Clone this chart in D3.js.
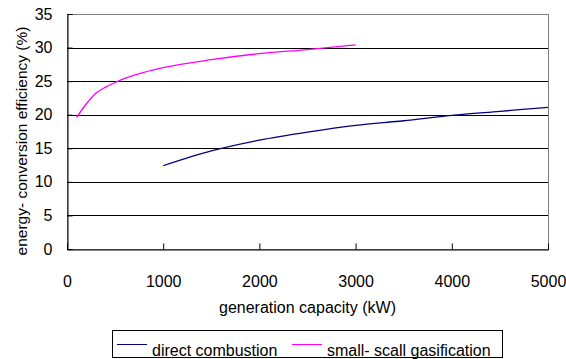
<!DOCTYPE html>
<html>
<head>
<meta charset="utf-8">
<script src="https://cdn.jsdelivr.net/npm/d3@7"></script>
<style>
  body { margin: 0; background: #fff; }
  svg { display: block; font-family: "Liberation Sans", Arial, sans-serif; }
</style>
</head>
<body>
<svg id="chart"></svg>
<script>
// data
var directKW = [1000, 1500, 2000, 2500, 3000, 3500, 4000, 4500, 5000]
var directEff = [12.4, 14.6, 16.2, 17.4, 18.4, 19.1, 19.9, 20.5, 21.1]
var gasKW = [100, 200, 300, 400, 500, 600, 800, 1000, 1500, 2000, 2500, 3000]
var gasEff = [19.6, 21.6, 23.2, 24.1, 24.8, 25.4, 26.3, 27.0, 28.2, 29.1, 29.7, 30.4]
var xTicks = [0, 1000, 2000, 3000, 4000, 5000]
var yTicks = [0, 5, 10, 15, 20, 25, 30, 35]
var seriesNames = ["direct combustion", "small- scall gasification"]
var seriesColors = ["#000080", "#ff00ff"]

var W = 566, H = 359
var margin = {top: 14, right: 18, bottom: 110, left: 67}
var width = W - margin.left - margin.right,
    height = H - margin.top - margin.bottom

var svg = d3.select("#chart").attr("width", W).attr("height", H)
var g = svg.append("g").attr("transform", "translate(" + margin.left + "," + margin.top + ")")

var x = d3.scaleLinear().domain([0, 5000]).range([0, width])
var y = d3.scaleLinear().domain([0, 35]).range([height, 0])

// plot frame (gray)
g.append("rect")
  .attr("x", 0.5).attr("y", 0.5)
  .attr("width", width).attr("height", height)
  .attr("fill", "none")
  .attr("stroke", "#808080")

// gridlines
g.selectAll(".grid")
  .data(yTicks.filter(function (d) { return d > 0 && d < 35 }))
  .enter().append("line")
  .attr("x1", 0).attr("x2", width)
  .attr("y1", function (d) { return Math.round(y(d)) + 0.5 })
  .attr("y2", function (d) { return Math.round(y(d)) + 0.5 })
  .attr("stroke", "#000")

// y axis
var yAxis = g.append("g")
  .attr("transform", "translate(0.5,0)")
  .call(d3.axisLeft(y).tickValues(yTicks).tickSize(-5).tickPadding(15))
yAxis.select(".domain").attr("stroke", "#000")
yAxis.selectAll("text").attr("font-size", "16px").attr("fill", "#000").attr("font-family", "Liberation Sans, Arial, sans-serif")

// x axis
var xAxis = g.append("g")
  .attr("transform", "translate(0," + (height + 0.5) + ")")
  .call(d3.axisBottom(x).tickValues(xTicks).tickFormat(d3.format("d")).tickSize(-6).tickPadding(26))
xAxis.select(".domain").attr("stroke", "#000")
xAxis.selectAll("text").attr("font-size", "16px").attr("fill", "#000").attr("font-family", "Liberation Sans, Arial, sans-serif")

// axis titles
svg.append("text")
  .attr("x", margin.left + width / 2).attr("y", 313)
  .attr("text-anchor", "middle")
  .attr("font-size", "16px")
  .text("generation capacity (kW)")

svg.append("text")
  .attr("transform", "translate(27,141) rotate(-90)")
  .attr("text-anchor", "middle")
  .attr("font-size", "15.5px")
  .text("energy- conversion efficiency (%)")

// lines
var line = d3.line()
  .x(function (d) { return x(d[0]) })
  .y(function (d) { return y(d[1]) })
  .curve(d3.curveMonotoneX)

var series = [d3.zip(directKW, directEff), d3.zip(gasKW, gasEff)]
g.selectAll(".series")
  .data(series)
  .enter().append("path")
  .attr("d", line)
  .attr("fill", "none")
  .attr("stroke", function (d, i) { return seriesColors[i] })
  .attr("stroke-width", 1.3)

// legend
var legend = svg.append("g")
legend.append("rect")
  .attr("x", 112.5).attr("y", 330.5)
  .attr("width", 390).attr("height", 27)
  .attr("fill", "#fff")
  .attr("stroke", "#000")

var legX = [117, 292]
seriesNames.forEach(function (name, i) {
  legend.append("line")
    .attr("x1", legX[i]).attr("x2", legX[i] + 30)
    .attr("y1", 344.5).attr("y2", 344.5)
    .attr("stroke", seriesColors[i])
  legend.append("text")
    .attr("x", legX[i] + 35).attr("y", 356)
    .attr("font-size", "16px")
    .text(name)
})
</script>
</body>
</html>
